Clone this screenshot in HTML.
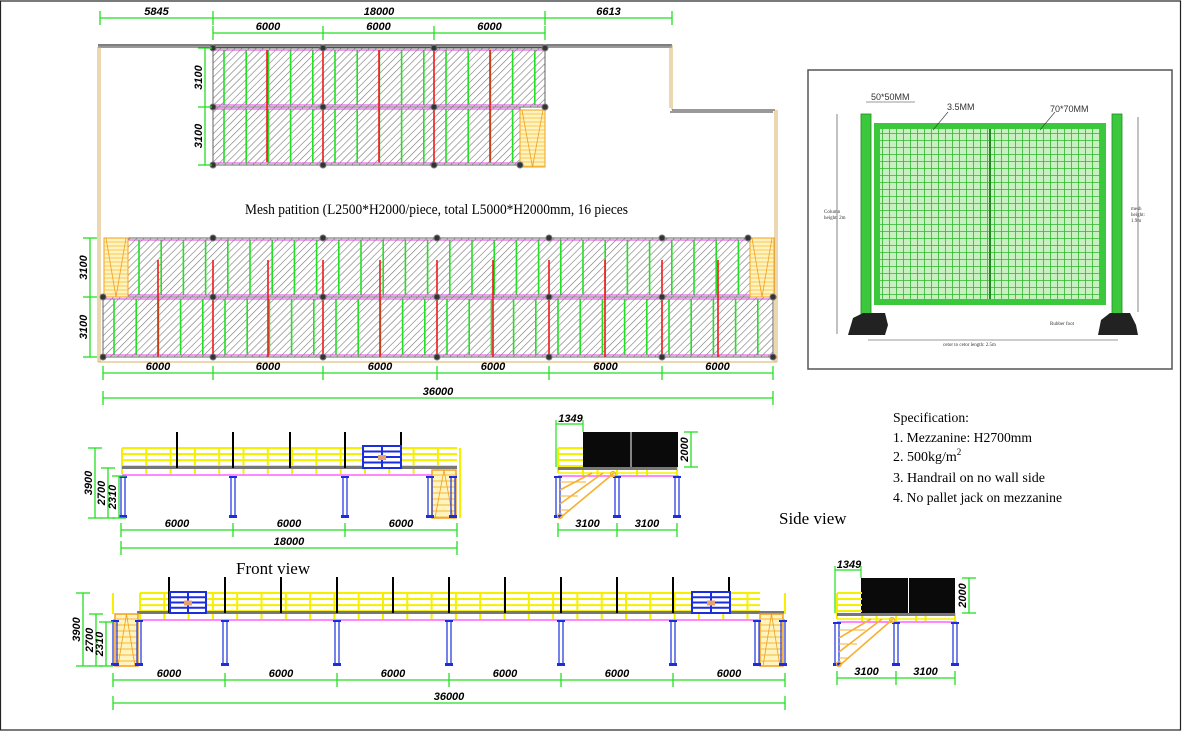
<!DOCTYPE html>
<html><head><meta charset="utf-8"><style>
html,body{margin:0;padding:0;background:#fff}
svg{display:block}
.d{font-family:"Liberation Sans",sans-serif;font-size:11px;font-style:italic;font-weight:bold;fill:#000}
.s{font-family:"Liberation Serif",serif;fill:#000}
</style></head><body>
<svg id="c" width="1182" height="731" viewBox="0 0 1182 731" xmlns="http://www.w3.org/2000/svg">
<defs>
<pattern id="h" width="5" height="5" patternUnits="userSpaceOnUse" patternTransform="rotate(45)">
<rect width="5" height="5" fill="#fff"/><line x1="0" y1="0" x2="0" y2="5" stroke="#777" stroke-width="1.2"/></pattern>
<pattern id="m" width="7" height="7" patternUnits="userSpaceOnUse"><rect width="7" height="7" fill="#c8f0c0"/><path d="M0 0H7M0 0V7" stroke="#2fb52f" stroke-width="1.6"/></pattern>
</defs>
<rect x="0.5" y="1" width="1180" height="729" fill="none" stroke="#222" stroke-width="1.2"/>
<g id="g"></g>
<text class="s" x="245" y="214" font-size="15" textLength="383" lengthAdjust="spacingAndGlyphs">Mesh patition (L2500*H2000/piece, total L5000*H2000mm, 16 pieces</text>
<text class="s" x="779" y="524" font-size="17">Side view</text>
<text class="s" x="236" y="574" font-size="17">Front view</text>
<g class="s" font-size="14">
<text x="893" y="422" textLength="76" lengthAdjust="spacingAndGlyphs">Specification:</text>
<text x="893" y="442" textLength="139" lengthAdjust="spacingAndGlyphs">1. Mezzanine: H2700mm</text>
<text x="893" y="461">2. 500kg/m<tspan font-size="9" dy="-6">2</tspan></text>
<text x="893" y="482" textLength="152" lengthAdjust="spacingAndGlyphs">3. Handrail on no wall side</text>
<text x="893" y="502" textLength="169" lengthAdjust="spacingAndGlyphs">4. No pallet jack on mezzanine</text>
</g>
<rect x="808" y="70" width="364" height="299" fill="#fff" stroke="#555" stroke-width="1.5"/>
<rect x="874" y="123" width="232" height="182" fill="#3cc83c"/>
<rect x="880" y="129" width="220" height="170" fill="url(#m)"/>
<line x1="990" y1="129" x2="990" y2="299" stroke="#1f8a1f" stroke-width="2"/>
<rect x="861" y="114" width="10" height="200" fill="#3cc83c" stroke="#1f8a1f" stroke-width="0.8"/>
<rect x="1112" y="114" width="10" height="200" fill="#3cc83c" stroke="#1f8a1f" stroke-width="0.8"/>
<path d="M848 335 L853 318 L863 313 L885 313 L888 325 L885 335 Z" fill="#222"/>
<path d="M1098 335 L1101 320 L1110 313 L1130 313 L1136 325 L1138 335 Z" fill="#222"/>
<g stroke="#333" stroke-width="0.6" fill="none">
<line x1="837" y1="114" x2="837" y2="334"/><line x1="1138" y1="117" x2="1138" y2="312"/>
<line x1="868" y1="340" x2="1118" y2="340"/>
<line x1="866" y1="102" x2="915" y2="102"/><line x1="933" y1="130" x2="948" y2="112"/><line x1="1040" y1="130" x2="1055" y2="112"/>
</g>
<g font-family="Liberation Sans,sans-serif" fill="#333">
<text x="871" y="100" font-size="9">50*50MM</text>
<text x="947" y="110" font-size="9">3.5MM</text>
<text x="1050" y="112" font-size="9">70*70MM</text>
<text x="824" y="213" font-size="5" font-family="Liberation Serif,serif">Column</text>
<text x="824" y="219" font-size="5" font-family="Liberation Serif,serif">height: 2m</text>
<text x="1131" y="210" font-size="5" font-family="Liberation Serif,serif">mesh</text>
<text x="1131" y="216" font-size="5" font-family="Liberation Serif,serif">height:</text>
<text x="1131" y="222" font-size="5" font-family="Liberation Serif,serif">1.9m</text>
<text x="1050" y="325" font-size="5" font-family="Liberation Serif,serif">Rubber foot</text>
<text x="943" y="346" font-size="5" font-family="Liberation Serif,serif">cetor to cetor length: 2.5m</text>
</g>
</svg>
<script>
var g=document.getElementById('g'),o='';
function L(x1,y1,x2,y2,c,w){o+='<line x1="'+x1+'" y1="'+y1+'" x2="'+x2+'" y2="'+y2+'" stroke="'+c+'" stroke-width="'+(w||1)+'"/>';}
function R(x,y,w,h,f,s,sw){o+='<rect x="'+x+'" y="'+y+'" width="'+w+'" height="'+h+'" fill="'+f+'" stroke="'+(s||'none')+'" stroke-width="'+(sw||1)+'"/>';}
function T(x,y,t,rot){o+=rot?'<text class="d" transform="translate('+x+','+y+') rotate(-90)" text-anchor="middle">'+t+'</text>':'<text class="d" x="'+x+'" y="'+y+'" text-anchor="middle">'+t+'</text>';}
var G='#22e022';
function hd(ticks,y,labels){L(ticks[0],y,ticks[ticks.length-1],y,G,1.3);ticks.forEach(function(t){L(t,y-7,t,y+7,G,1.3);});
 for(var i=0;i<labels.length;i++)T((ticks[i]+ticks[i+1])/2,y-3,labels[i]);}
function vd(ticks,x,labels){L(x,ticks[0],x,ticks[ticks.length-1],G,1.3);ticks.forEach(function(t){L(x-7,t,x+7,t,G,1.3);});
 for(var i=0;i<labels.length;i++)T(x-3,(ticks[i]+ticks[i+1])/2,labels[i],1);}
function col(x,y){o+='<circle cx="'+x+'" cy="'+y+'" r="3" fill="#333" stroke="#777"/>';}
function block(x1,x2,y1,y2){R(x1,y1,x2-x1,y2-y1,'url(#h)','#666',1);
 for(var x=x1+11;x<x2-3;x+=22.2)L(x,y1+2,x,y2-2,G,1.6);
 L(x1,y1+2,x2,y1+2,'#e040e0',1);L(x1,y2-2,x2,y2-2,'#e040e0',1);}
function stairP(x1,y1,x2,y2){R(x1,y1,x2-x1,y2-y1,'#fff3c0','#f0a020',1);for(var y=y1+4;y<y2;y+=4)L(x1,y,x2,y,'#f5b830',0.8);
 L(x1+2,y1,(x1+x2)/2,y2,'#f0a020',0.8);L(x2-2,y1,(x1+x2)/2,y2,'#f0a020',0.8);}
var W='#d8b060';
L(98,45,672,45,'#333',1.2);L(98,47,672,47,'#333',1);
L(98,47,98,362,W,1);L(100,47,100,362,W,1);
L(670,47,670,108,W,1);L(672,45,672,110,W,1);L(672,110,775,110,'#333',1);L(670,112,773,112,'#333',1);
L(775,110,775,362,W,1);L(777,110,777,362,W,1);L(98,362,777,362,W,1);
block(213,545,48,107);block(213,520,107,165);stairP(520,110,545,167);
[267,323,379,434,490].forEach(function(x){L(x,50,x,162,'#f01818',1.6);});
[213,323,434,545].forEach(function(x){col(x,48);col(x,107);});[213,323,434,520].forEach(function(x){col(x,165);});
hd([100,213,545,672],18,['5845','18000','6613']);hd([213,323,434,545],33,['6000','6000','6000']);
vd([48,107,165],205,['3100','3100']);
block(128,750,238,297);block(103,773,297,357);stairP(104,238,128,297);stairP(750,238,774,297);
[158,213,268,323,380,437,493,549,605,662,718].forEach(function(x){L(x,260,x,357,'#f01818',1.6);});
[213,323,437,549,662,748].forEach(function(x){col(x,238);});
[103,213,323,437,549,662,773].forEach(function(x){col(x,297);col(x,357);});
hd([103,213,323,437,549,662,773],373,['6000','6000','6000','6000','6000','6000']);
hd([103,773],398,['36000']);vd([238,297,357],90,['3100','3100']);
var Y='#f5f000',B='#1a2ee0',M='#ff60ff';
function rail(x1,x2,yt,yd){for(var k=0;k<4;k++)L(x1,yt+k*(yd-yt)/3.3,x2,yt+k*(yd-yt)/3.3,Y,2);
 for(var x=x1;x<=x2+1;x+=24.3)L(x,yt,x,yd+6,Y,2);}
function column(x,yt,yb){L(x-2,yt,x-2,yb,B,1.2);L(x+2,yt,x+2,yb,B,1.2);R(x-4,yb-3,8,3,B);R(x-4,yt,8,2,B);}
function gate(x1,x2,yt,yd){R(x1,yt,x2-x1,yd-yt,'#fff',B,2);L((x1+x2)/2,yt,(x1+x2)/2,yd,B,2);
 for(var k=1;k<4;k++)L(x1,yt+k*(yd-yt)/4,x2,yt+k*(yd-yt)/4,B,2);R((x1+x2)/2-4,yt+(yd-yt)/2-2,8,5,'#e8a070');}
function stairE(x1,x2,yt,yb){R(x1,yt,x2-x1,yb-yt,'#fff3c0','#f0a020',1.5);for(var y=yt+5;y<yb;y+=6)L(x1,y,x2,y,'#f5b830',1);
 L(x1+3,yb,(x1+x2)/2,yt,'#f0a020',0.8);L(x2-3,yb,(x1+x2)/2,yt,'#f0a020',0.8);}
rail(122,457,448,468);R(122,466,335,3,'#777');L(122,475,457,475,M,1.5);
[177,233,290,345,401].forEach(function(x){L(x,432,x,468,'#000',2);});gate(363,401,446,468);
stairE(432,456,470,518);L(460,448,460,518,Y,2);
[123,233,345,430,453].forEach(function(x){column(x,476,518);});
vd([448,518],95,['3900']);vd([468,518],108,['2700']);vd([476,518],119,['2310']);
hd([121,233,345,457],530,['6000','6000','6000']);hd([121,457],548,['18000']);
function side(x0,yt,yd,ym,yb,c2,c3,bx1,bx2,btop){
 R(bx1,btop,(bx2-bx1)/2,yd-btop,'#0a0a0a');R((bx1+bx2)/2+1,btop,(bx2-bx1)/2-1,yd-btop,'#0a0a0a');
 for(var k=0;k<4;k++)L(x0,yt+k*6,x0+25,yt+k*6,Y,2);L(x0,yt,x0,yd+6,Y,2);
 [x0+25,(x0+c2)/2+10,c2,c2+20,(c2+c3)/2,c3].forEach(function(x){L(x,yd,x,yd+8,Y,2);});
 L(x0,yd+6,c3,yd+6,Y,1.5);R(x0,yd,c3-x0,3,'#777');L(x0,ym,c3+2,ym,M,1.5);
 [x0,c2,c3].forEach(function(x){column(x,ym,yb);});
 for(var d=0;d<3;d++){L(x0+2,yb-d*14,c2-3-d*11,yd+6,'#f5b030',1.6);}
 for(var s=0;s<3;s++){L(x0+2,yb-8-s*14,x0+12+s*8,yb-8-s*14,'#f5b030',1);}
 o+='<circle cx="'+(x0+2)+'" cy="'+(yb-2)+'" r="2.5" fill="none" stroke="#f5b030" stroke-width="1.2"/>';
 o+='<circle cx="'+(c2-4)+'" cy="'+(yd+7)+'" r="2.5" fill="none" stroke="#f5b030" stroke-width="1.2"/>';
 L(x0-2,btop-12,x0-2,yd,G,1.2);L(bx1,btop-12,bx1,btop,G,1.2);L(x0-2,btop-8,bx1,btop-8,G,1.2);T((x0+bx1)/2,btop-10,'1349');
 vd([btop,yd],c3+14,['2000']);
 hd([x0,c2,c3],yb+12,['3100','3100']);}
side(558,448,467,476,518,617,677,583,678,432);
side(837,593,613,622,666,896,955,861,955,578);
rail(140,760,593,613);R(137,611,648,3,'#777');L(113,620,785,620,M,1.5);
[169,225,281,337,393,449,505,561,617,673,729].forEach(function(x){L(x,577,x,613,'#000',2);});
gate(170,206,592,613);gate(692,730,592,613);
stairE(115,138,614,666);stairE(760,783,614,666);L(113,593,113,614,Y,2);L(785,593,785,614,Y,2);
[115,139,225,337,449,561,673,757,783].forEach(function(x){column(x,620,666);});
vd([593,666],83,['3900']);vd([614,666],96,['2700']);vd([622,666],106,['2310']);
hd([113,225,337,449,561,673,785],680,['6000','6000','6000','6000','6000','6000']);hd([113,785],703,['36000']);
g.innerHTML=o;
</script>
</body></html>
